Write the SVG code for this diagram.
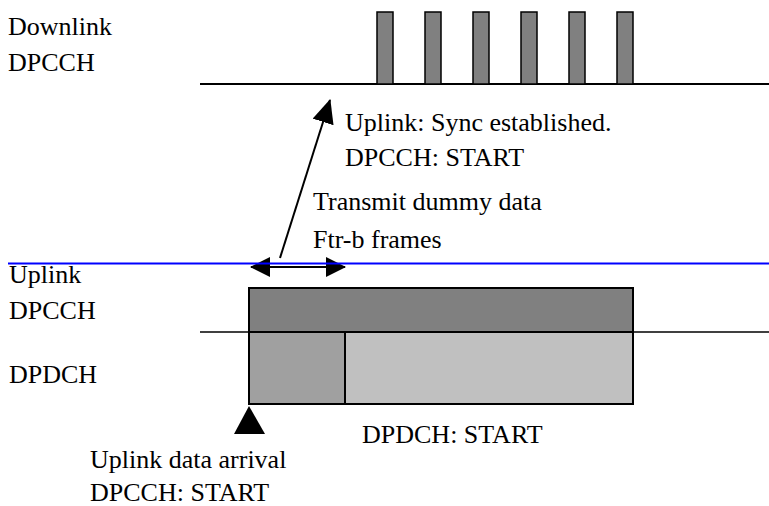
<svg xmlns="http://www.w3.org/2000/svg" width="769" height="506" viewBox="0 0 769 506">
  <style>
    text { font-size: 26px; fill: #000; }
    .bar { fill: #808080; stroke: #000; stroke-width: 1.5; }
    .axis { stroke: #000; stroke-width: 2; fill: none; }
    .conn { stroke: #000; stroke-width: 2; fill: none; }
  </style>
  <defs>
    <marker id="head" viewBox="0 0 24 22" refX="23" refY="11" markerWidth="24" markerHeight="22" markerUnits="userSpaceOnUse" orient="auto-start-reverse">
      <path d="M0,0 L24,11 L0,22 Z" fill="#000"/>
    </marker>
    <marker id="head2" viewBox="0 0 20 20" refX="19" refY="10" markerWidth="20" markerHeight="20" markerUnits="userSpaceOnUse" orient="auto-start-reverse">
      <path d="M0,0 L20,10 L0,20 Z" fill="#000"/>
    </marker>
  </defs>

  <g id="labels-left" font-family="'Liberation Serif', 'Times New Roman', serif">
    <text x="8" y="35">Downlink</text>
    <text x="8" y="71">DPCCH</text>
    <text x="9" y="283">Uplink</text>
    <text x="9" y="319">DPCCH</text>
    <text x="9" y="383">DPDCH</text>
  </g>

  <g id="downlink">
    <line class="axis" x1="200" y1="84" x2="769" y2="84"/>
    <rect class="bar" x="377" y="12" width="16" height="72"/>
    <rect class="bar" x="425" y="12" width="16" height="72"/>
    <rect class="bar" x="473" y="12" width="16" height="72"/>
    <rect class="bar" x="521" y="12" width="16" height="72"/>
    <rect class="bar" x="569" y="12" width="16" height="72"/>
    <rect class="bar" x="617" y="12" width="16" height="72"/>
  </g>

  <g id="uplink">
    <line x1="200" y1="332" x2="769" y2="332" stroke="#000" stroke-width="1.5"/>
    <rect id="ul-dpcch" x="249" y="288" width="384" height="44" fill="#808080" stroke="#000" stroke-width="2"/>
    <rect id="ul-dpdch-dummy" x="249" y="332" width="96" height="72" fill="#a0a0a0" stroke="#000" stroke-width="2"/>
    <rect id="ul-dpdch" x="345" y="332" width="288" height="72" fill="#c0c0c0" stroke="#000" stroke-width="2"/>
  </g>

  <g id="connectors">
    <line class="conn" x1="280" y1="258" x2="330" y2="100" marker-end="url(#head)"/>
    <line class="conn" x1="251" y1="267" x2="345" y2="267" marker-start="url(#head2)" marker-end="url(#head2)"/>
    <path d="M249,406 L234,434 L265,434 Z" fill="#000"/>
  </g>

  <line id="separator" x1="8" y1="263.5" x2="769" y2="263.5" stroke="#0000ff" stroke-width="2"/>

  <g id="annotations" font-family="'Liberation Serif', 'Times New Roman', serif">
    <text x="345" y="131">Uplink: Sync established.</text>
    <text x="345" y="166">DPCCH: START</text>
    <text x="313" y="210">Transmit dummy data</text>
    <text x="313" y="248">Ftr-b frames</text>
    <text x="362" y="443">DPDCH: START</text>
    <text x="90" y="468">Uplink data arrival</text>
    <text x="90" y="501">DPCCH: START</text>
  </g>
</svg>
